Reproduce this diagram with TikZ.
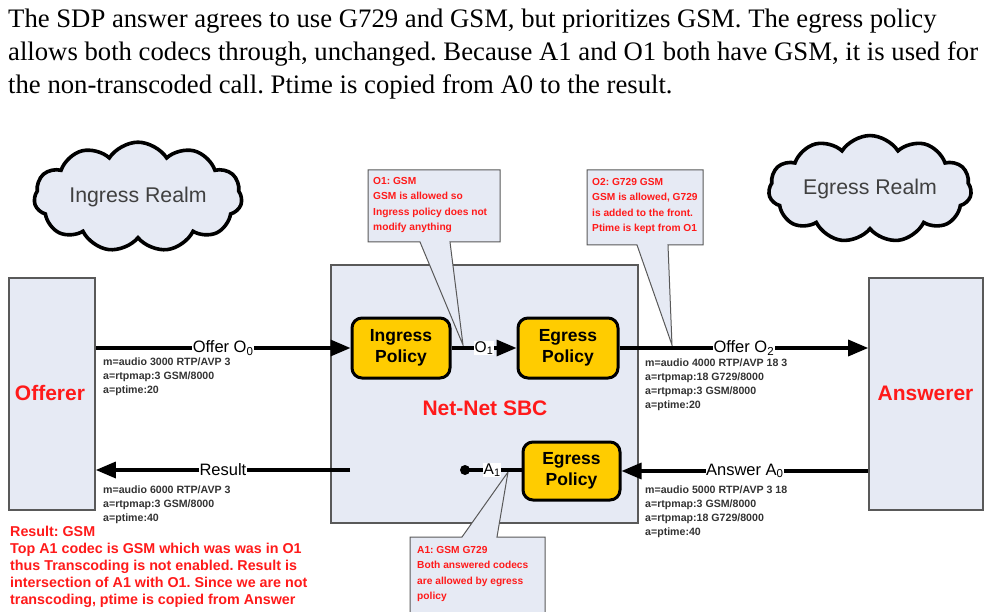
\documentclass[tikz,border=0pt]{standalone}
\usepackage{fontspec}
\setmainfont{Liberation Serif}
\setsansfont{Liberation Sans}
\usetikzlibrary{shapes.symbols,arrows.meta}
\definecolor{boxfill}{HTML}{E6EAF4}
\definecolor{boxdraw}{HTML}{595959}
\definecolor{polfill}{HTML}{FFCC00}
\definecolor{redtxt}{HTML}{FF1A1A}
\definecolor{sdptxt}{HTML}{333333}
\definecolor{cloudtxt}{HTML}{404040}
\tikzset{
  endbox/.style={draw=boxdraw, line width=1.6pt, fill=boxfill, inner sep=0pt},
  policy/.style={draw=black, line width=3pt, fill=polfill, rounded corners=10pt,
    font=\sffamily\bfseries\fontsize{17.5}{21}\selectfont, align=center,
    minimum width=98pt, minimum height=60pt, inner sep=0pt},
  flow/.style={line width=3.3pt, -{Triangle[length=20pt,width=16pt]}},
  plainflow/.style={line width=3.3pt},
  flowlabel/.style={fill=white, inner sep=0.5pt, font=\sffamily\fontsize{16.5}{18}\selectfont},
  sublabel/.style={fill=white, inner sep=0.5pt, font=\sffamily\fontsize{15.5}{18}\selectfont},
  sdp/.style={anchor=north west, align=left, text=sdptxt,
    font=\sffamily\bfseries\fontsize{10.6}{14}\selectfont, inner sep=0pt},
  note/.style={anchor=north west, align=left, text=redtxt,
    font=\sffamily\bfseries\fontsize{10.2}{15.5}\selectfont, inner sep=0pt},
  bignote/.style={anchor=north west, align=left, text=redtxt,
    font=\sffamily\bfseries\fontsize{14.3}{17}\selectfont, inner sep=0pt},
  callout/.style={draw=boxdraw, fill=boxfill, line width=1pt},
  realm/.style={cloud, cloud puffs=11, cloud puff arc=115, aspect=2.5, draw=black,
    line width=3.6pt, fill=boxfill, minimum width=202pt, minimum height=76pt,
    font=\sffamily\fontsize{21.3}{23}\selectfont, text=cloudtxt},
  titletext/.style={text=redtxt, font=\sffamily\bfseries\fontsize{21}{24}\selectfont},
  para/.style={anchor=base west, inner sep=0pt, font=\rmfamily\fontsize{26.7}{33}\selectfont}
}
\begin{document}
\frenchspacing
\begin{tikzpicture}[x=1pt, y=-1pt]
\useasboundingbox (0,0) rectangle (985,612);
% paragraph
\node[para] (p1) at (8,28) {The SDP answer agrees to use G729 and GSM, but prioritizes GSM. The egress policy};
\node[para] (p2) at (8,61) {allows both codecs through, unchanged. Because A1 and O1 both have GSM, it is used for};
\node[para] (p3) at (8,94) {the non-transcoded call. Ptime is copied from A0 to the result.};
% clouds
\node[realm] (ing) at (138,197) {Ingress Realm};
\node[realm] (egr) at (870,189) {Egress Realm};
% boxes
\node[endbox, minimum width=86pt, minimum height=232pt] (off) at (52,394) {};
\node[endbox, minimum width=114pt, minimum height=232pt] (ans) at (926,394) {};
\node[endbox, minimum width=307pt, minimum height=258pt] (sbc) at (484.5,394) {};
\node[titletext] (offt) at (50,393) {Offerer};
\node[titletext] (anst) at (925.5,393) {Answerer};
\node[titletext] (sbct) at (485,408) {Net-Net SBC};
% callouts
\path[callout] (368,170) -- (500,170) -- (500,242) -- (450,242) -- (463,345) -- (420,242) -- (368,242) -- cycle;
\node[note] (n1) at (373,177) {O1: GSM\\GSM is allowed so\\Ingress policy does not\\modify anything};
\path[callout] (587,170) -- (703,170) -- (703,245) -- (668,245) -- (672,345) -- (637,245) -- (587,245) -- cycle;
\node[note] (n2) at (592,178) {O2: G729 GSM\\GSM is allowed, G729\\is added to the front.\\Ptime is kept from O1};
\path[callout] (410,537) -- (462,537) -- (508,472) -- (497,537) -- (545,537) -- (545,630) -- (410,630) -- cycle;
\node[note] (n3) at (417,546) {A1: GSM G729\\Both answered codecs\\are allowed by egress\\policy};
% policies
\node[policy] (ipol) at (401,348) {Ingress\\Policy};
\node[policy, minimum width=100pt] (epol) at (568,348) {Egress\\Policy};
\node[policy, minimum width=97pt, minimum height=58pt] (apol) at (571.5,471) {Egress\\Policy};
% flows
\draw[flow] (off.east |- ipol.west) -- node[flowlabel] {Offer O\textsubscript{0}} (ipol.west);
\draw[flow] (ipol.east) -- node[sublabel] {O\textsubscript{1}} (epol.west);
\draw[flow] (epol.east) -- node[flowlabel] {Offer O\textsubscript{2}} (ans.west |- epol.east);
\draw[flow] (ans.west |- apol.east) -- node[flowlabel] {Answer A\textsubscript{0}} (apol.east);
\coordinate (a1dot) at (465,470);
\coordinate (resstart) at (350,470);
\draw[plainflow] (apol.west |- a1dot) -- node[sublabel, pos=0.52] {A\textsubscript{1}} (a1dot);
\fill (a1dot) circle (5pt);
\draw[flow] (resstart) -- node[flowlabel] {Result} (off.east |- resstart);
% sdp texts
\node[sdp] (s0) at (103,358) {m=audio 3000 RTP/AVP 3\\a=rtpmap:3 GSM/8000\\a=ptime:20};
\node[sdp] (s2) at (645,358.5) {m=audio 4000 RTP/AVP 18 3\\a=rtpmap:18 G729/8000\\a=rtpmap:3 GSM/8000\\a=ptime:20};
\node[sdp] (sa) at (645,486) {m=audio 5000 RTP/AVP 3 18\\a=rtpmap:3 GSM/8000\\a=rtpmap:18 G729/8000\\a=ptime:40};
\node[sdp] (sr) at (103,486) {m=audio 6000 RTP/AVP 3\\a=rtpmap:3 GSM/8000\\a=ptime:40};
\node[bignote] (res) at (10,526) {Result: GSM\\Top A1 codec is GSM which was was in O1\\thus Transcoding is not enabled. Result is\\intersection of A1 with O1. Since we are not\\transcoding, ptime is copied from Answer};
\end{tikzpicture}
\end{document}
